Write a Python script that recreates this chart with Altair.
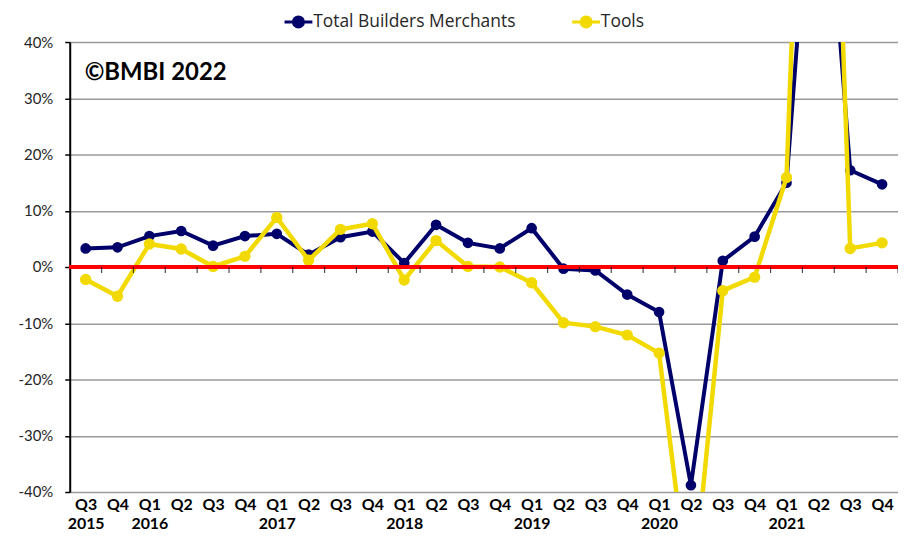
import altair as alt
import pandas as pd

quarters = ["Q3", "Q4", "Q1", "Q2", "Q3", "Q4", "Q1", "Q2", "Q3", "Q4", "Q1", "Q2", "Q3",
            "Q4", "Q1", "Q2", "Q3", "Q4", "Q1", "Q2", "Q3", "Q4", "Q1", "Q2", "Q3", "Q4"]
years = ["2015", "2015", "2016", "2016", "2016", "2016", "2017", "2017", "2017", "2017",
         "2018", "2018", "2018", "2018", "2019", "2019", "2019", "2019", "2020", "2020",
         "2020", "2020", "2021", "2021", "2021", "2021"]
total_builders_merchants = [3.3, 3.5, 5.5, 6.4, 3.8, 5.5, 5.9, 2.2, 5.3, 6.3, 0.7, 7.5, 4.3,
                            3.3, 6.9, -0.3, -0.6, -4.9, -8.0, -38.8, 1.1, 5.4, 15.0, 90.0,
                            17.2, 14.7]
tools = [-2.2, -5.2, 4.1, 3.2, 0.1, 1.9, 8.8, 1.2, 6.7, 7.7, -2.3, 4.7, 0.1, 0.0, -2.8,
         -9.9, -10.6, -12.1, -15.3, -61.0, -4.2, -1.8, 15.9, 165.0, 3.3, 4.3]
series_names = ["Total Builders Merchants", "Tools"]
series_colors = ["#00006b", "#f2da00"]
y_ticks = [-40, -30, -20, -10, 0, 10, 20, 30, 40]

periods = [f"{q}|{y}" for q, y in zip(quarters, years)]
df = pd.DataFrame({
    "period": periods * 2,
    "value": total_builders_merchants + tools,
    "series": [series_names[0]] * len(periods) + [series_names[1]] * len(periods),
})
zero_df = pd.DataFrame({"period": periods, "zero": [0] * len(periods)})

W, H = 832, 452
FONT = "Lato"

# legend glyph: a line with a filled-looking dot, drawn as strokes (unit box = 14px)
legend_path = ("M-2,0L2,0"
               "M-0.72,0A0.72,0.72,0,1,0,0.72,0A0.72,0.72,0,1,0,-0.72,0Z"
               "M-0.36,0A0.36,0.36,0,1,0,0.36,0A0.36,0.36,0,1,0,-0.36,0Z"
               "M-0.1,0A0.1,0.1,0,1,0,0.1,0A0.1,0.1,0,1,0,-0.1,0Z")

x_enc = alt.X(
    "period:O", sort=periods, title=None,
    scale=alt.Scale(type="point", padding=0.5),
    axis=alt.Axis(
        labelExpr="datum.value == 'Q3|2015' || slice(datum.value, 0, 2) == 'Q1' ? split(datum.value, '|') : slice(datum.value, 0, 2)",
        labelAngle=0, labelFont=FONT, labelFontSize=16, labelFontWeight="bold",
        labelColor="#000000", labelLineHeight=19, labelPadding=5,
        domain=False, ticks=False, grid=False, labelBaseline="top",
    ),
)
y_enc = alt.Y(
    "value:Q", title=None,
    scale=alt.Scale(domain=[-40, 40], nice=False, zero=False),
    axis=alt.Axis(
        values=y_ticks, labelExpr="datum.value + '%'", grid=True,
        gridColor="#9a9a9a", gridWidth=1.5, domainColor="#000000", domainWidth=2,
        tickColor="#000000", tickSize=5, tickWidth=1.5, labelPadding=12,
        labelFont=FONT, labelFontSize=15, labelColor="#262626",
    ),
)
color_enc = alt.Color(
    "series:N",
    scale=alt.Scale(domain=series_names, range=series_colors),
    legend=alt.Legend(
        title=None, orient="none", legendX=221, legendY=-29, direction="horizontal",
        symbolType=legend_path, symbolSize=196, symbolStrokeWidth=3,
        labelFont="Open Sans", labelFontSize=17.5, labelColor="#262626", labelOffset=6,
        labelLimit=0, columnPadding=50,
    ),
)

base = alt.Chart(df)
layers = []
for name, sw, ps in [(series_names[0], 4, 115), (series_names[1], 4.5, 130)]:
    sub = base.transform_filter(alt.datum.series == name)
    layers.append(sub.mark_line(strokeWidth=sw, clip=True).encode(x=x_enc, y=y_enc, color=color_enc))
    layers.append(sub.mark_point(filled=True, size=ps, opacity=1, clip=True).encode(x=x_enc, y=y_enc, color=color_enc))

zero_rule = alt.Chart(zero_df).mark_rule(color="#ff0000", strokeWidth=3).encode(y=alt.Y("zero:Q"))
zero_ticks = alt.Chart(zero_df).mark_tick(
    orient="vertical", size=6, thickness=1.2, color="#000000", xOffset=16, yOffset=3
).encode(x=alt.X("period:O", sort=periods), y=alt.Y("zero:Q"))

label = alt.Chart(pd.DataFrame({"t": ["\u00a9BMBI 2022"]})).mark_text(
    align="left", baseline="middle", font=FONT, fontSize=24, fontWeight="bold", color="#000000"
).encode(text="t:N", x=alt.value(15), y=alt.value(31))

chart = alt.layer(*layers, zero_rule, zero_ticks, label).properties(
    width=W, height=H,
    padding={"left": 62, "top": 33, "right": 0, "bottom": 43},
    autosize=alt.AutoSizeParams(type="none"),
).configure_view(stroke=None)

chart.save("out.html", embed_options={"renderer": "svg", "actions": False})
